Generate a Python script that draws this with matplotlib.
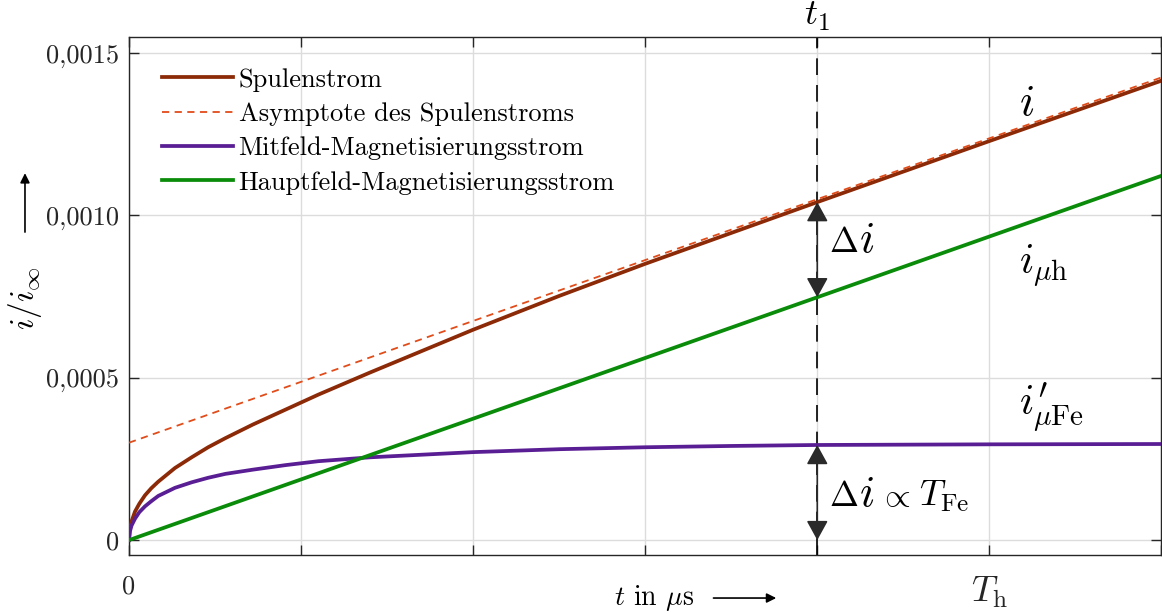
import matplotlib.pyplot as plt
import numpy as np

plt.rcParams['font.family'] = ['cmr10', 'DejaVu Serif']
plt.rcParams['mathtext.fontset'] = 'cm'
plt.rcParams['axes.formatter.use_mathtext'] = True
plt.rcParams['axes.unicode_minus'] = False

# zeit in µs (normiert), ströme bezogen auf i_inf
t_us = [0, 0.005, 0.015, 0.035, 0.06, 0.093, 0.13, 0.17, 0.267, 0.364, 0.46,
        0.56, 0.72, 0.91, 1.1, 1.4, 2.0, 2.5, 3.0, 3.5, 4.0, 5.0, 6.0]
i_spule = [0, 0.000032, 0.000058, 0.000088, 0.000112, 0.000138, 0.00016, 0.00018,
           0.000222, 0.000255, 0.000286, 0.000314, 0.000356, 0.000402, 0.000448,
           0.000516, 0.000648, 0.000752, 0.000851, 0.000946, 0.001041, 0.001229, 0.001415]
i_mitfeld = [0, 0.000026, 0.000045, 0.000066, 0.000086, 0.000104, 0.00012, 0.000136,
             0.000161, 0.000178, 0.000192, 0.000204, 0.000217, 0.000231, 0.000243,
             0.000255, 0.000271, 0.00028, 0.000286, 0.00029, 0.000293, 0.000295, 0.000296]

t_gerade = [0, 6]
i_haupt = [0, 0.001122]
i_asym = [0.0003, 0.001425]

t_1 = 4.0
T_h = 5.0

y_ticks = [0, 0.0005, 0.0010, 0.0015]
y_ticklabels = ['0', '0,0005', '0,0010', '0,0015']
x_ticks = [0, 1, 2, 3, 4, 5, 6]
x_ticklabels = ['0', '', '', '', '', r'$T_\mathrm{h}$', '']

c_spule = '#8c2a08'
c_asym = '#e04c1a'
c_mit = '#5a1e94'
c_haupt = '#0a8c0a'
c_dark = '#262626'

fig = plt.figure(figsize=(11.62, 6.14), dpi=100)
ax = fig.add_axes([0.111, 0.096, 0.8885, 0.844])

ax.plot(t_us, i_spule, color=c_spule, lw=2.7, label='Spulenstrom', zorder=3)
ax.plot(t_gerade, i_asym, color=c_asym, lw=1.3, dashes=(4, 3),
        label='Asymptote des Spulenstroms', zorder=4)
ax.plot(t_us, i_mitfeld, color=c_mit, lw=2.7, label='Mitfeld-Magnetisierungsstrom', zorder=3)
ax.plot(t_gerade, i_haupt, color=c_haupt, lw=2.7, label='Hauptfeld-Magnetisierungsstrom', zorder=3)

ax.set_xlim(0, 6)
ax.set_ylim(-0.000046, 0.00155)

ax.set_xticks(x_ticks)
ax.set_xticklabels(x_ticklabels)
ax.set_yticks(y_ticks)
ax.set_yticklabels(y_ticklabels)
ax.tick_params(direction='in', length=7, width=1, colors=c_dark, top=True, right=True,
               labelsize=19)
ax.tick_params(axis='x', pad=14)
ax.tick_params(axis='y', pad=7)
ax.get_xticklabels()[5].set_fontsize(26)
ax.grid(True, color='#dcdcdc', lw=1)
ax.set_axisbelow(True)
for s in ax.spines.values():
    s.set_color(c_dark)
    s.set_linewidth(1)

# t1 markierung
ax.axvline(t_1, color='k', lw=1.2, dashes=(10, 6), zorder=2)
ax.annotate(r'$t_1$', xy=(t_1, 1), xycoords=('data', 'axes fraction'),
            xytext=(0, 3), textcoords='offset points', ha='center', va='bottom',
            fontsize=26, annotation_clip=False)

i_spule_t1 = np.interp(t_1, t_us, i_spule)
i_mit_t1 = np.interp(t_1, t_us, i_mitfeld)
i_haupt_t1 = np.interp(t_1, t_gerade, i_haupt)

pfeil = dict(arrowstyle='<|-|>,head_length=0.4,head_width=0.22', color='#2a2a2a',
             lw=1.2, mutation_scale=30, shrinkA=0, shrinkB=0)
ax.annotate('', xy=(t_1, i_spule_t1), xytext=(t_1, i_haupt_t1), arrowprops=pfeil, zorder=5)
ax.annotate('', xy=(t_1, i_mit_t1), xytext=(t_1, 0), arrowprops=pfeil, zorder=5)

ax.text(4.07, 0.000887, r'$\Delta$', fontsize=25, va='baseline')
ax.text(4.245, 0.000887, r'$i$', fontsize=32, va='baseline')
ax.text(4.07, 0.000106, r'$\Delta$', fontsize=25, va='baseline')
ax.text(4.245, 0.000106, r'$i$', fontsize=32, va='baseline')
ax.text(4.36, 0.000106, r'$\propto$', fontsize=24, va='baseline')
ax.text(4.59, 0.000106, r'$T_{\mathrm{Fe}}$', fontsize=26, va='baseline')

ax.text(5.17, 0.00131, r'$i$', fontsize=32, va='baseline')
ax.text(5.17, 0.000822, r'$i_{\mu\mathrm{h}}$', fontsize=30, va='baseline')
ax.text(5.17, 0.000384, r'$i^{\prime}_{\mu\mathrm{Fe}}$', fontsize=30, va='baseline')

leg = ax.legend(loc='upper left', bbox_to_anchor=(0.032, 0.94), frameon=False,
                fontsize=19, handlelength=2.7, handletextpad=0.2, labelspacing=0.4,
                borderpad=0, borderaxespad=0)

# achsenbeschriftungen mit pfeilen
fig.text(0.0215, 0.515, r'$i/i_\infty$', rotation=90, fontsize=24, ha='center', va='center')
fig.add_artist(plt.Annotation('', xy=(0.0215, 0.718), xytext=(0.0215, 0.622),
                              xycoords='figure fraction',
                              arrowprops=dict(arrowstyle='-|>', color='k', lw=1.2,
                                              mutation_scale=14, shrinkA=0, shrinkB=0)))
fig.text(0.563, 0.026, r'$t$ in $\mu$s', fontsize=20, ha='center', va='center')
fig.add_artist(plt.Annotation('', xy=(0.668, 0.026), xytext=(0.614, 0.026),
                              xycoords='figure fraction',
                              arrowprops=dict(arrowstyle='-|>', color='k', lw=1.2,
                                              mutation_scale=14, shrinkA=0, shrinkB=0)))

fig.savefig('out.png', dpi=100)
